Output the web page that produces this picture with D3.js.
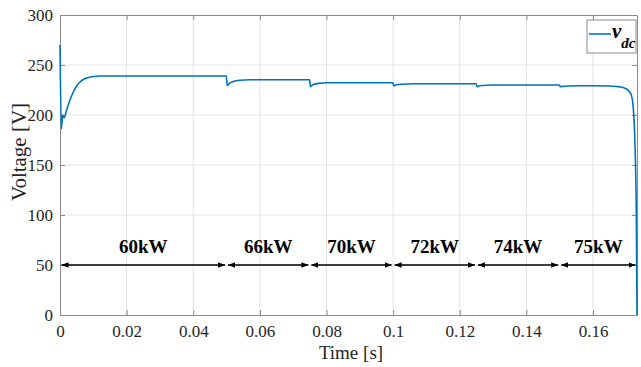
<!DOCTYPE html>
<html>
<head>
<meta charset="utf-8">
<script src="https://cdn.jsdelivr.net/npm/d3@7"></script>
<style>
  body { margin: 0; background: #fff; }
  text { font-family: "Liberation Serif", "Times New Roman", serif; }
</style>
</head>
<body>
<div id="chart"></div>
<script>
var timeVals = [0, 0.0004, 0.0008, 0.0012, 0.0016, 0.002, 0.003, 0.004, 0.005, 0.006, 0.007, 0.008, 0.01, 0.012, 0.015, 0.02,
  0.0499, 0.0502, 0.051, 0.052, 0.054, 0.057, 0.06,
  0.0749, 0.0752, 0.076, 0.078, 0.08, 0.085,
  0.0999, 0.1002, 0.101, 0.103, 0.106, 0.11,
  0.1249, 0.1252, 0.126, 0.128, 0.131, 0.135,
  0.1499, 0.1502, 0.151, 0.153, 0.156, 0.16, 0.165, 0.167, 0.169, 0.170, 0.171, 0.1715, 0.172, 0.1725, 0.173, 0.1732];
var voltVals = [270, 186, 200, 197, 200, 205, 215, 223, 229, 233, 235.5, 237, 238.5, 239, 239, 239,
  239, 229.5, 232, 233.5, 234.8, 235.2, 235.2,
  235.2, 228.5, 230.5, 231.8, 232.3, 232.3,
  232.3, 229.2, 230.2, 230.8, 231.2, 231.2,
  231.2, 228.3, 229.2, 229.8, 230, 230,
  230, 228.2, 228.6, 229, 229.2, 229.2, 229, 228.5, 227.5, 226, 223, 220, 210, 180, 100, 0];

var xTicks = [0, 0.02, 0.04, 0.06, 0.08, 0.1, 0.12, 0.14, 0.16];
var yTicks = [0, 50, 100, 150, 200, 250, 300];

// load intervals shown with double arrows at 50 V
var loadStart = [0, 0.05, 0.075, 0.1, 0.125, 0.15];
var loadEnd = [0.05, 0.075, 0.1, 0.125, 0.15, 0.1732];
var loadLabels = ["60kW", "66kW", "70kW", "72kW", "74kW", "75kW"];
var arrowLevel = 50;
var labelLevel = 62;

var margin = {top: 15, right: 4, bottom: 52, left: 60},
    width = 641 - margin.left - margin.right,
    height = 367 - margin.top - margin.bottom;

var svg = d3.select("#chart")
  .append("svg")
  .attr("width", 641)
  .attr("height", 367)
  .append("g")
  .attr("transform", "translate(" + margin.left + "," + margin.top + ")");

var xScale = d3.scaleLinear().domain([0, 0.1732]).range([0, width]);
var yScale = d3.scaleLinear().domain([0, 300]).range([height, 0]);

// grid
svg.append("g")
  .selectAll("line")
  .data(xTicks.slice(1))
  .enter()
  .append("line")
  .attr("x1", function(d) { return xScale(d); })
  .attr("x2", function(d) { return xScale(d); })
  .attr("y1", 0)
  .attr("y2", height)
  .attr("stroke", "#e3e3e3");

svg.append("g")
  .selectAll("line")
  .data(yTicks.slice(1, -1))
  .enter()
  .append("line")
  .attr("x1", 0)
  .attr("x2", width)
  .attr("y1", function(d) { return yScale(d); })
  .attr("y2", function(d) { return yScale(d); })
  .attr("stroke", "#e3e3e3");

// axes
svg.append("g")
  .attr("transform", "translate(0," + height + ")")
  .call(d3.axisBottom(xScale).tickValues(xTicks).tickFormat(function(d) { return d3.format("~g")(d); })
    .tickSizeInner(-5).tickSizeOuter(0).tickPadding(10));

svg.append("g")
  .call(d3.axisLeft(yScale).tickValues(yTicks).tickSizeInner(-5).tickSizeOuter(0).tickPadding(7));

svg.append("g")
  .call(d3.axisTop(xScale).tickValues(xTicks).tickFormat("").tickSizeInner(-5).tickSizeOuter(0));

svg.append("g")
  .attr("transform", "translate(" + width + ",0)")
  .call(d3.axisRight(yScale).tickValues(yTicks).tickFormat("").tickSizeInner(-5).tickSizeOuter(0));

svg.selectAll(".domain").attr("stroke", "#8c8c8c");
svg.selectAll(".tick line").attr("stroke", "#8c8c8c");
svg.selectAll(".tick text")
  .attr("fill", "#262626")
  .style("font-size", "17px")
  .style("font-family", "Liberation Serif");

// axis titles
svg.append("text")
  .attr("x", 291)
  .attr("y", height + 44)
  .style("text-anchor", "middle")
  .style("font-size", "19px")
  .attr("fill", "#262626")
  .text("Time [s]");

svg.append("text")
  .attr("transform", "rotate(-90)")
  .attr("x", -137)
  .attr("y", -34)
  .style("text-anchor", "middle")
  .style("font-size", "21px")
  .attr("fill", "#262626")
  .text("Voltage [V]");

// arrow markers
var defs = svg.append("defs");
defs.append("marker")
  .attr("id", "arrEnd")
  .attr("viewBox", "0 0 10 10")
  .attr("refX", 10).attr("refY", 5)
  .attr("markerWidth", 7).attr("markerHeight", 7)
  .attr("markerUnits", "userSpaceOnUse")
  .attr("orient", "auto")
  .append("path").attr("d", "M0,1 L10,5 L0,9 Z").attr("fill", "#000");
defs.append("marker")
  .attr("id", "arrStart")
  .attr("viewBox", "0 0 10 10")
  .attr("refX", 0).attr("refY", 5)
  .attr("markerWidth", 7).attr("markerHeight", 7)
  .attr("markerUnits", "userSpaceOnUse")
  .attr("orient", "auto")
  .append("path").attr("d", "M10,1 L0,5 L10,9 Z").attr("fill", "#000");

var segs = svg.selectAll(".seg")
  .data(loadLabels)
  .enter()
  .append("g")
  .attr("class", "seg");

segs.append("line")
  .attr("x1", function(d, i) { return xScale(loadStart[i]) + 1.5; })
  .attr("x2", function(d, i) { return xScale(loadEnd[i]) - 1.5; })
  .attr("y1", yScale(arrowLevel))
  .attr("y2", yScale(arrowLevel))
  .attr("stroke", "#000")
  .attr("stroke-width", 1.3)
  .attr("marker-start", "url(#arrStart)")
  .attr("marker-end", "url(#arrEnd)");

segs.append("text")
  .attr("x", function(d, i) { return (xScale(loadStart[i]) + xScale(loadEnd[i])) / 2; })
  .attr("y", yScale(labelLevel))
  .style("text-anchor", "middle")
  .style("font-size", "19px")
  .style("font-weight", "bold")
  .text(function(d) { return d; });

// waveform
var line = d3.line()
  .x(function(d, i) { return xScale(timeVals[i]); })
  .y(function(d) { return yScale(d); })
  .curve(d3.curveMonotoneX);

svg.append("path")
  .datum(voltVals)
  .attr("d", line)
  .attr("fill", "none")
  .attr("stroke", "#0072BD")
  .attr("stroke-width", 1.6);

// legend
var legend = svg.append("g").attr("transform", "translate(" + (width - 50) + ",5)");
legend.append("rect")
  .attr("x", 0).attr("y", 0)
  .attr("width", 49).attr("height", 33)
  .attr("fill", "#fff")
  .attr("stroke", "#8c8c8c");
legend.append("line")
  .attr("x1", 2).attr("x2", 24)
  .attr("y1", 14).attr("y2", 14)
  .attr("stroke", "#0072BD")
  .attr("stroke-width", 1.6);
var lt = legend.append("text")
  .attr("x", 25).attr("y", 18)
  .style("font-weight", "bold")
  .style("font-style", "italic")
  .style("font-size", "21px");
lt.append("tspan").text("v");
lt.append("tspan").attr("dy", 10).style("font-size", "15px").text("dc");
</script>
</body>
</html>
